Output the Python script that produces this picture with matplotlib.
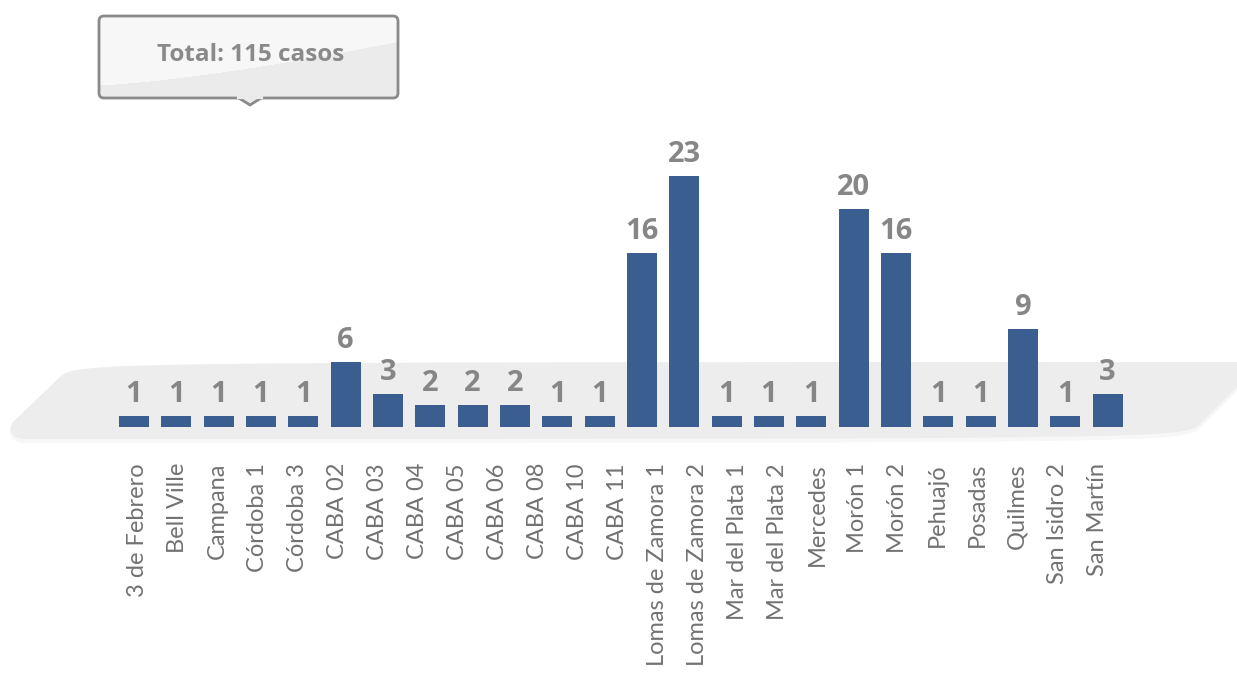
import numpy as np
import matplotlib
matplotlib.use("Agg")
import matplotlib.pyplot as plt
from matplotlib.path import Path
from matplotlib.patches import PathPatch, FancyBboxPatch, Polygon

# datos (la imagen original tiene 25 etiquetas y 24 barras)
sedes = ['3 de Febrero', 'Bell Ville', 'Campana', 'Córdoba 1', 'Córdoba 3',
         'CABA 02', 'CABA 03', 'CABA 04', 'CABA 05', 'CABA 06', 'CABA 08',
         'CABA 10', 'CABA 11', 'Lomas de Zamora 1', 'Lomas de Zamora 2',
         'Mar del Plata 1', 'Mar del Plata 2', 'Mercedes', 'Morón 1', 'Morón 2',
         'Pehuajó', 'Posadas', 'Quilmes', 'San Isidro 2', 'San Martín']
casos = [1, 1, 1, 1, 1, 6, 3, 2, 2, 2, 1, 1, 16, 23, 1, 1, 1, 20, 16, 1, 1, 9, 1, 3]
titulo = 'Total: 115 casos'

W, H = 1237, 674
fig = plt.figure(figsize=(W / 100, H / 100), dpi=100)
fig.patch.set_facecolor('white')

# fondo en pixeles
bg = fig.add_axes([0, 0, 1, 1], zorder=0)
bg.set_xlim(0, W)
bg.set_ylim(H, 0)
bg.axis('off')

# plataforma gris
verts = [(25, 439), (12, 439), (6, 430), (14, 421),
         (60, 377), (75, 362), (97, 362),
         (1237, 362), (1237, 387),
         (1200, 424), (1185, 439), (1163, 439),
         (25, 439)]
codes = [Path.MOVETO, Path.CURVE4, Path.CURVE4, Path.CURVE4,
         Path.LINETO, Path.CURVE4, Path.CURVE4,
         Path.LINETO, Path.LINETO,
         Path.LINETO, Path.CURVE4, Path.CURVE4,
         Path.CLOSEPOLY]
shadow = Path([(x, y + 4) for x, y in verts], codes)
bg.add_patch(PathPatch(shadow, facecolor='#f7f7f7', edgecolor='none'))
bg.add_patch(PathPatch(Path(verts, codes), facecolor='#ededed', edgecolor='none'))

# globo con el total
caja = FancyBboxPatch((99, 16), 299, 82, boxstyle='round,pad=0,rounding_size=5',
                      facecolor='none', edgecolor='#8a8a8a', linewidth=2, zorder=3)
bg.add_patch(caja)
gy, gx = np.mgrid[0:90, 0:310]
curva = 85 - 45 * (gx / 310) ** 1.4
grad = np.where(gy + 14 < curva, 0.968, 0.918)
img = bg.imshow(grad, cmap='gray', vmin=0, vmax=1, extent=(94, 404, 104, 14),
                zorder=2, aspect='auto', interpolation='bilinear')
img.set_clip_path(caja)
bg.set_xlim(0, W)
bg.set_ylim(H, 0)
bg.add_patch(Polygon([(238, 97.5), (262, 97.5), (250, 105)], closed=True,
                     facecolor='#eaeaeb', edgecolor='#8a8a8a', linewidth=2, zorder=3))
bg.plot([239, 261], [97, 97], color='#eaeaeb', linewidth=3, zorder=4)
bg.text(251, 55, titulo, ha='center', va='center', fontsize=17.5,
        fontweight='bold', color='#8a8a8a', family='Open Sans', zorder=5)

# barras
x = np.arange(len(casos))
ax = fig.add_axes([112.8 / W, 247 / H, 1016 / W, 272.5 / H], zorder=2)
ax.patch.set_alpha(0)
ax.bar(x, casos, width=0.71, color='#3b5e91')
ax.set_xlim(-0.5, len(casos) - 0.5)
ax.set_ylim(0, 25)
for xi, v in zip(x, casos):
    ax.annotate(str(v), (xi, v), xytext=(0, 5), textcoords='offset points',
                ha='center', va='bottom', fontsize=21, fontweight='bold',
                color='#868686', family='Open Sans', annotation_clip=False)
ax.set_xticks([])
ax.set_yticks([])
for s in ax.spines.values():
    s.set_visible(False)

# etiquetas (espaciado propio, como en el original)
xl = np.arange(len(sedes))
axl = fig.add_axes([117 / W, 247 / H, 1000 / W, 0.01], zorder=1)
axl.patch.set_alpha(0)
axl.set_xlim(-0.5, len(sedes) - 0.5)
axl.set_xticks(xl)
axl.set_xticklabels(sedes, rotation=90, fontsize=17, color='#727272',
                    family='Lato', fontweight='normal')
axl.tick_params(axis='x', length=0, pad=26)
axl.set_yticks([])
for s in axl.spines.values():
    s.set_visible(False)

fig.savefig('out.png', dpi=100)
